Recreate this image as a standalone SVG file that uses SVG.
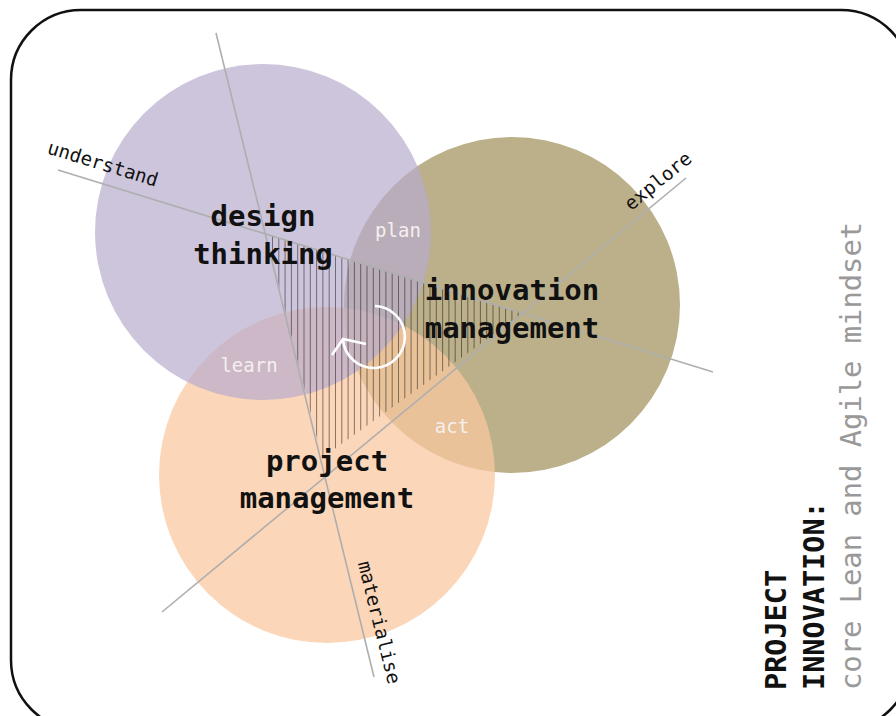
<svg xmlns="http://www.w3.org/2000/svg" width="896" height="716" viewBox="0 0 896 716">
<style>
text{font-family:"DejaVu Sans Mono","Liberation Mono",monospace}
.t{font-size:29px;font-weight:bold;fill:#111;text-anchor:middle}
.w{font-size:19px;fill:#f4f0ee;text-anchor:middle}
.k{font-size:19px;fill:#111;text-anchor:middle}
.ax{stroke:#aeaeae;stroke-width:1.6;fill:none}
.h{stroke:#111;stroke-width:1;stroke-opacity:.5}
</style>
<defs><clipPath id="tri"><polygon points="266,234 523,313 322,458"/></clipPath></defs>
<rect id="frame" x="11" y="10" width="900" height="720" rx="70" ry="70" fill="#fff" stroke="#111" stroke-width="2.5"/>
<g id="innovation-circle"><circle cx="512" cy="305" r="168" fill="#bbb08a"/></g>
<g id="project-circle"><circle cx="327" cy="475" r="168" fill="#fac89f" fill-opacity=".74"/></g>
<g id="design-circle"><circle cx="263" cy="232" r="168" fill="#b7abcc" fill-opacity=".69"/></g>
<g id="hatch" clip-path="url(#tri)">
<path class="h" d="M272.500 230V460M278.800 230V460M285.100 230V460M291.400 230V460M297.700 230V460M304 230V460M310.300 230V460M316.600 230V460M322.900 230V460M329.200 230V460M335.500 230V460M341.800 230V460M348.100 230V460M354.400 230V460M360.700 230V460M367 230V460M373.300 230V460M379.600 230V460M385.900 230V460M392.200 230V460M398.500 230V460M404.800 230V460M411.100 230V460M417.400 230V460M423.700 230V460M430 230V460M436.300 230V460M442.600 230V460M448.900 230V460M455.200 230V460M461.500 230V460M467.800 230V460M474.100 230V460M480.400 230V460M486.700 230V460M493 230V460M499.300 230V460M505.600 230V460M511.900 230V460M518.200 230V460"/>
</g>
<g id="connectors">
<line class="ax" x1="216" y1="33" x2="374" y2="677"/>
<line class="ax" x1="58" y1="170" x2="713" y2="372"/>
<line class="ax" x1="686" y1="178" x2="162" y2="612"/>
</g>
<g id="cycle" fill="none" stroke="#fff" stroke-width="2.600">
<path d="M375 306A31 31 0 1 1 343 340"/>
<path d="M332 355L343 339L366 344"/>
</g>
<g id="design-thinking"><text class="t" x="263" y="226">design</text><text class="t" x="263" y="264">thinking</text></g>
<g id="innovation-management"><text class="t" x="512" y="300">innovation</text><text class="t" x="512" y="338">management</text></g>
<g id="project-management"><text class="t" x="327" y="471">project</text><text class="t" x="327" y="508">management</text></g>
<g id="labels">
<text class="w" x="398" y="237">plan</text>
<text class="w" x="249" y="372">learn</text>
<text class="w" x="452" y="433">act</text>
<text class="k" transform="translate(101,170) rotate(17)">understand</text>
<text class="k" transform="translate(662,186) rotate(-39)">explore</text>
<text class="k" transform="translate(373,624) rotate(76)">materialise</text>
</g>
<g id="title">
<text transform="translate(786,690) rotate(-90)" font-size="28.500" font-weight="bold" fill="#111">PROJECT</text>
<text transform="translate(824,690) rotate(-90)" font-size="28.500" font-weight="bold" fill="#111">INNOVATION:</text>
<text transform="translate(861,690) rotate(-90)" font-size="28.800" fill="#999">core Lean and Agile mindset</text>
</g>
</svg>
